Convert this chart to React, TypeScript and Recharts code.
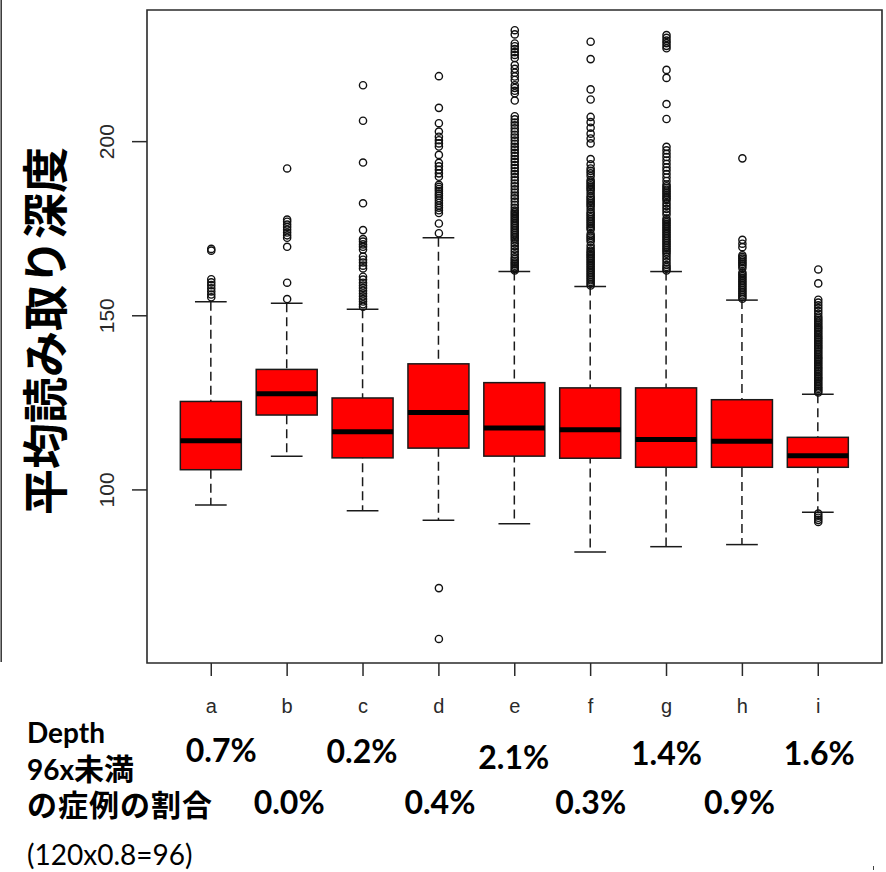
import { ComposedChart, Bar, Scatter, XAxis, YAxis, ReferenceArea } from 'recharts';

// boxplot summary per sample
const categories = ['a', 'b', 'c', 'd', 'e', 'f', 'g', 'h', 'i'];
const whiskerLow = [95.7, 109.7, 94.0, 91.3, 90.3, 82.2, 83.7, 84.3, 93.6];
const quartile1 = [105.8, 121.5, 109.2, 112.0, 109.7, 109.1, 106.5, 106.5, 106.5];
const medians = [114.1, 127.6, 116.7, 122.2, 117.8, 117.3, 114.5, 114.0, 109.8];
const quartile3 = [125.4, 134.6, 126.4, 136.2, 130.8, 129.3, 129.3, 125.9, 115.1];
const whiskerHigh = [154.0, 153.6, 151.9, 172.4, 162.7, 158.4, 162.7, 154.5, 127.5];

// share of cases with depth below 96x (%)
const below96Pct = [0.7, 0.0, 0.2, 0.4, 2.1, 0.3, 1.4, 0.9, 1.6];

const yTicks = [100, 150, 200];

// outliers
const outliersA = [155.3, 156.1, 157.0, 157.9, 158.8, 159.6, 160.5, 168.7, 169.2];
const outliersB = [154.8, 159.5, 169.8, 172.4, 173.1, 173.9, 174.7, 175.5, 176.2, 177.0, 177.6, 192.3];
const outliersC = [
  152.6, 153.3, 154.1, 154.8, 155.6, 156.4, 157.2, 158.0, 158.7, 159.5, 160.4, 161.2, 163.6, 164.4,
  165.3, 166.1, 167.0, 169.0, 169.8, 170.5, 171.3, 172.0, 174.6, 182.3, 194.0, 206.0, 216.2,
];
const outliersD = [
  57.2, 71.8, 173.7, 176.5, 179.5, 180.3, 181.0, 181.7, 182.4, 183.1, 183.8, 184.5, 185.1, 185.8,
  186.4, 187.0, 187.6, 189.9, 190.9, 191.9, 192.9, 193.9, 196.2, 198.6, 199.5, 200.4, 201.4, 202.9,
  205.3, 209.7, 218.8,
];
const outliersE = [
  163.0, 163.4, 163.9, 164.4, 164.9, 165.3, 165.8, 166.3, 166.8, 167.6, 168.4, 169.2, 170.0, 170.8,
  171.6, 172.2, 172.7, 173.2, 173.7, 174.2, 174.7, 175.2, 175.7, 176.2, 176.7, 177.2, 177.7, 178.2,
  178.7, 179.2, 179.7, 180.2, 181.0, 181.9, 182.8, 183.7, 184.5, 185.4, 186.3, 187.2, 188.0, 188.9,
  189.8, 190.7, 191.5, 192.4, 193.3, 194.2, 195.0, 195.9, 196.8, 197.7, 198.5, 199.4, 200.3, 201.2,
  202.0, 202.9, 203.8, 204.7, 205.5, 206.4, 207.3, 211.8, 213.9, 214.6, 215.4, 216.2, 217.7, 218.7,
  219.8, 220.9, 222.0, 224.0, 224.9, 225.7, 226.6, 227.4, 228.2, 230.8, 232.0,
];
const outliersF = [
  158.7, 159.2, 159.7, 160.2, 160.7, 161.2, 161.7, 162.2, 162.7, 163.2, 163.7, 164.2, 164.7, 165.2,
  165.7, 166.2, 166.7, 167.2, 167.7, 168.2, 168.7, 169.4, 170.2, 171.3, 171.9, 172.4, 172.9, 173.5,
  174.8, 175.3, 175.8, 176.3, 176.8, 177.3, 177.8, 178.3, 178.8, 179.3, 179.8, 180.6, 181.4, 181.9,
  182.4, 182.9, 183.4, 183.9, 184.4, 185.2, 186.0, 186.5, 187.0, 187.5, 188.0, 188.5, 189.0, 190.1,
  190.9, 191.6, 192.3, 193.5, 195.0, 199.5, 200.9, 202.3, 204.0, 205.6, 207.1, 212.1, 215.0, 223.7,
  228.7,
];
const outliersG = [
  163.0, 163.5, 164.0, 164.6, 165.4, 166.2, 167.0, 167.8, 168.4, 168.9, 169.4, 169.9, 170.4, 170.9,
  171.4, 171.9, 172.4, 172.9, 173.4, 173.9, 174.4, 174.9, 175.4, 175.9, 176.4, 176.9, 177.4, 177.9,
  179.1, 179.9, 180.7, 181.5, 182.3, 183.2, 183.7, 184.2, 184.7, 185.2, 185.7, 186.2, 186.7, 187.2,
  187.7, 188.7, 189.7, 190.7, 191.7, 192.6, 193.6, 194.6, 195.6, 196.5, 197.5, 198.5, 206.5, 210.8,
  218.3, 220.6, 226.8, 227.5, 228.3, 229.0, 229.8, 230.6,
];
const outliersH = [
  154.9, 155.4, 155.9, 156.4, 156.9, 157.4, 157.9, 158.4, 158.9, 159.4, 159.9, 160.4, 160.9, 161.4,
  161.9, 162.4, 163.7, 164.4, 164.9, 165.4, 165.9, 166.4, 166.9, 167.4, 169.7, 170.7, 171.8, 195.2,
];
const outliersI = [
  90.8, 91.4, 92.0, 92.6, 93.2, 128.0, 128.5, 129.0, 129.4, 129.9, 130.4, 130.9, 131.4, 131.9, 132.3,
  132.8, 133.3, 133.8, 134.3, 134.8, 135.2, 135.7, 136.2, 136.7, 137.2, 137.7, 138.1, 138.6, 139.1,
  139.6, 140.1, 140.6, 141.0, 141.5, 142.0, 142.5, 143.0, 143.5, 143.9, 144.4, 144.9, 145.4, 145.9,
  146.4, 146.8, 147.3, 147.8, 148.3, 148.8, 149.3, 149.8, 150.6, 151.4, 152.2, 153.0, 153.8, 154.6,
  159.3, 163.3,
];
const outlierGroups = [
  outliersA, outliersB, outliersC, outliersD, outliersE, outliersF, outliersG, outliersH, outliersI,
];

const boxData = categories.map((name, i) => ({
  x: i + 1,
  name,
  whisker: [whiskerLow[i], whiskerHigh[i]],
  box: [quartile1[i], quartile3[i]],
  mid: [quartile1[i], medians[i]],
}));

const outlierData = outlierGroups.flatMap((vals, i) => vals.map((v) => ({ x: i + 1, y: v })));

const xTicks = categories.map((_, i) => i + 1);
const X_DOMAIN = [0.153, 9.84];
const Y_DOMAIN = [50.3, 237.8];

const LINE = '#1a1a1a';
const BOX_WIDTH = 61;

const WhiskerShape = (props: any) => {
  const { x, y, width, height } = props;
  const cx = x + width / 2;
  const cap = width * 0.26;
  return (
    <g stroke={LINE} strokeWidth={1.5}>
      <line x1={cx} x2={cx} y1={y} y2={y + height} strokeDasharray="9 5" />
      <line x1={cx - cap} x2={cx + cap} y1={y} y2={y} />
      <line x1={cx - cap} x2={cx + cap} y1={y + height} y2={y + height} />
    </g>
  );
};

const BoxShape = (props: any) => {
  const { x, y, width, height } = props;
  return <rect x={x} y={y} width={width} height={height} fill="#ff0000" stroke={LINE} strokeWidth={1.5} />;
};

const MedianShape = (props: any) => {
  const { x, y, width } = props;
  return <line x1={x} x2={x + width} y1={y} y2={y} stroke="#000" strokeWidth={5} />;
};

const OutlierShape = (props: any) => (
  <circle cx={props.cx} cy={props.cy} r={3.6} fill="none" stroke="#111" strokeWidth={1.4} />
);

// baseline and nudge of the percentage under each letter
const pctRowY = [84, 136, 85, 136, 91, 136, 87, 136, 87];
const pctDx = [10, 2, -1, 1, -1, 0, 0, -3, 1];

const CategoryTick = (props: any) => {
  const { x, y, payload } = props;
  const i = payload.value - 1;
  return (
    <g>
      <text x={x} y={y + 35} textAnchor="middle" fontSize={20} fill="#2a2a2a" fontFamily="'Liberation Sans', Arial, sans-serif">
        {categories[i]}
      </text>
      <text
        x={x + pctDx[i]}
        y={y + pctRowY[i]}
        textAnchor="middle"
        fontSize={32}
        fontWeight={700}
        fill="#000"
        fontFamily="Lato, sans-serif"
      >
        {below96Pct[i].toFixed(1)}%
      </text>
    </g>
  );
};

const ValueTick = (props: any) => {
  const { x, y, payload } = props;
  return (
    <text
      transform={`translate(${x - 16}, ${y}) rotate(-90)`}
      textAnchor="middle"
      fontSize={21}
      fill="#2a2a2a"
      fontFamily="'Liberation Sans', Arial, sans-serif"
    >
      {payload.value}
    </text>
  );
};

const hiddenAxis = (id: string) => (
  <XAxis xAxisId={id} dataKey="x" type="number" domain={X_DOMAIN} ticks={xTicks} allowDataOverflow hide />
);

export default function App() {
  return (
    <div style={{ position: 'absolute', left: 0, top: 0, width: 886, height: 872, background: '#fff' }}>
      <ComposedChart width={886} height={872} data={boxData} margin={{ top: 10, right: 4, bottom: 179, left: 0 }}>
        <XAxis
          dataKey="x"
          type="number"
          domain={X_DOMAIN}
          ticks={xTicks}
          allowDataOverflow
          interval={0}
          height={30}
          tickSize={13}
          axisLine={false}
          tickLine={{ stroke: '#2a2a2a', strokeWidth: 1.5 }}
          tick={<CategoryTick />}
        />
        {hiddenAxis('whisker')}
        {hiddenAxis('box')}
        {hiddenAxis('median')}
        <YAxis
          type="number"
          domain={Y_DOMAIN}
          ticks={yTicks}
          allowDataOverflow
          interval={0}
          width={147}
          tickSize={15}
          axisLine={false}
          tickLine={{ stroke: '#2a2a2a', strokeWidth: 1.5 }}
          tick={<ValueTick />}
        />
        <ReferenceArea
          x1={X_DOMAIN[0]}
          x2={X_DOMAIN[1]}
          y1={Y_DOMAIN[0]}
          y2={Y_DOMAIN[1]}
          fill="none"
          stroke="#2a2a2a"
          strokeWidth={1.6}
          ifOverflow="visible"
        />
        <Bar xAxisId="whisker" dataKey="whisker" barSize={BOX_WIDTH} shape={WhiskerShape} isAnimationActive={false} />
        <Bar xAxisId="box" dataKey="box" barSize={BOX_WIDTH} shape={BoxShape} isAnimationActive={false} />
        <Bar xAxisId="median" dataKey="mid" barSize={BOX_WIDTH} shape={MedianShape} isAnimationActive={false} />
        <Scatter data={outlierData} dataKey="y" shape={OutlierShape} isAnimationActive={false} />
      </ComposedChart>

      <svg width={886} height={872} style={{ position: 'absolute', left: 0, top: 0, pointerEvents: 'none' }}>
        <line x1={1.2} x2={1.2} y1={0} y2={662} stroke="#333" strokeWidth={1.5} />
        <text
          transform="translate(42, 331) rotate(-90)"
          textAnchor="middle"
          dominantBaseline="central"
          fontSize={46}
          fontWeight={700}
          fill="#000"
          fontFamily="'Noto Sans CJK JP', sans-serif"
        >
          平均読み取り深度
        </text>
        <g fontFamily="Lato, 'Noto Sans CJK JP', sans-serif" fontWeight={700} fill="#000">
          <text x={27} y={743} fontSize={28}>Depth</text>
          <text x={27} y={780} fontSize={28}>
            96x<tspan fontSize={30}>未満</tspan>
          </text>
          <text x={27} y={816} fontSize={30} letterSpacing={1}>の症例の割合</text>
        </g>
        <text x={27} y={865} fontSize={28} fill="#000" fontFamily="Lato, sans-serif">
          (120x0.8=96)
        </text>
        <line x1={873.5} x2={873.5} y1={866} y2={870} stroke="#444" strokeWidth={1} />
      </svg>
    </div>
  );
}
